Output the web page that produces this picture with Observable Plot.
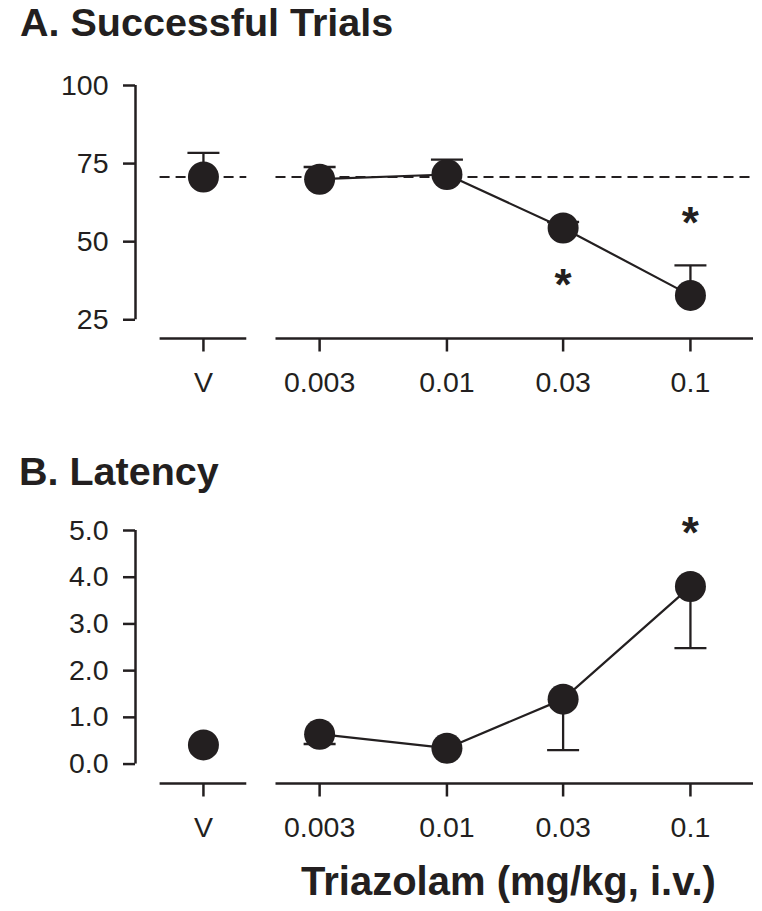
<!DOCTYPE html>
<html>
<head>
<meta charset="utf-8">
<script src="https://cdn.jsdelivr.net/npm/d3@7"></script>
<script src="https://cdn.jsdelivr.net/npm/@observablehq/plot@0.6"></script>
<style>
  html, body { margin: 0; padding: 0; background: #fff; }
  #fig { position: relative; width: 762px; height: 911px; overflow: hidden; font-family: "Liberation Sans", Arial, Helvetica, sans-serif; color: #231f20; }
  .t { position: absolute; font-weight: bold; line-height: 1; white-space: nowrap; }
  .rot { transform: translate(-50%, -50%) rotate(-90deg); }
  .panel { position: absolute; left: 0; }
</style>
</head>
<body>
<div id="fig">
  <div class="t" style="left:20px; top:3px; font-size:39.5px;">A. Successful Trials</div>
  <div class="t" style="left:19px; top:452px; font-size:39.5px;">B. Latency</div>
  <div class="t rot" style="left:22px; top:200px; font-size:39.5px;">Percent</div>
  <div class="t rot" style="left:29px; top:646px; font-size:39.5px;">Seconds</div>
  <div class="t" style="left:301px; top:861px; font-size:40px;">Triazolam (mg/kg, i.v.)</div>
  <div class="panel" id="pA" style="top:60px;"></div>
  <div class="panel" id="pB" style="top:505px;"></div>
</div>
<script>
// ---- data ----
const doseLabels = ["V", "0.003", "0.01", "0.03", "0.1"];
const dosePos = [0.001, 0.003, 0.01, 0.03, 0.1]; // V drawn one log-step left of 0.003
const successMean = [70.7, 70.0, 71.5, 54.4, 32.8];
const successSem = [7.7, 3.9, 4.8, 1.9, 9.6];
const successStars = [null, null, null, 37.6, 57.7];
const latencyMean = [0.41, 0.64, 0.34, 1.39, 3.80];
const latencySem = [null, 0.21, null, 1.09, 1.32];
const latencyStars = [null, null, null, null, 5.06];
const successTicks = [25, 50, 75, 100];
const latencyTicks = [0, 1, 2, 3, 4, 5];

// ---- layout ----
const ink = "#231f20";
const xDomain = [10 ** -3.279, 10 ** -0.741];
const xSegments = [[10 ** -3.178, 10 ** -2.822], [10 ** -2.702, 10 ** -0.741]];
const hline = {
  draw(context, size) {
    const r = Math.sqrt(size / Math.PI);
    context.moveTo(-r, 0);
    context.lineTo(r, 0);
  }
};

function panel(o) {
  const rows = dosePos.map((x, i) => ({x, mean: o.mean[i], sem: o.sem[i], star: o.stars[i]}));
  const drug = rows.slice(1);
  const err = rows.filter(d => d.sem != null).map(d => ({...d, end: d.mean + o.dir * d.sem}));
  const marks = [
    Plot.ruleY(xSegments, {x1: d => d[0], x2: d => d[1], y: () => o.yDomain[0], stroke: ink, strokeWidth: 2.5}),
    Plot.ruleX([xDomain[0]], {x: d => d, y1: () => o.yTicks[0], y2: () => o.yTicks[o.yTicks.length - 1], stroke: ink, strokeWidth: 2.5}),
    Plot.axisY({ticks: o.yTicks, tickFormat: o.yFmt, tickSize: 12, tickPadding: 15, fontSize: 28.5, strokeWidth: 2.5, label: null}),
    Plot.axisX({ticks: dosePos, tickFormat: d => doseLabels[dosePos.indexOf(d)], tickSize: 13.5, tickPadding: 20, fontSize: 28.5, strokeWidth: 2.5, label: null})
  ];
  if (o.ref != null) {
    marks.push(Plot.ruleY(xSegments, {x1: d => d[0], x2: d => d[1], y: () => o.ref, stroke: ink, strokeWidth: 2.2, strokeDasharray: "10,6"}));
  }
  marks.push(
    Plot.ruleX(err, {x: "x", y1: "mean", y2: "end", stroke: ink, strokeWidth: 2.3}),
    Plot.dot(err, {x: "x", y: "end", symbol: hline, r: 16, fill: "none", stroke: ink, strokeWidth: 2.3}),
    Plot.line(drug, {x: "x", y: "mean", stroke: ink, strokeWidth: 2.2}),
    Plot.dot(rows, {x: "x", y: "mean", r: 15.5, fill: ink, stroke: "none"}),
    Plot.text(rows.filter(d => d.star != null), {x: "x", y: "star", text: () => "*", fontSize: 44, fontWeight: "bold", fill: ink, dy: 6})
  );
  return Plot.plot({
    width: 762,
    height: o.height,
    marginTop: 25,
    marginLeft: 135,
    marginRight: 9,
    marginBottom: o.marginBottom,
    x: {type: "log", domain: xDomain},
    y: {domain: o.yDomain},
    style: {fontFamily: '"Liberation Sans", Arial, Helvetica, sans-serif', color: ink, background: "white", overflow: "visible"},
    marks
  });
}

document.getElementById("pA").appendChild(panel({
  mean: successMean, sem: successSem, stars: successStars, dir: 1,
  yDomain: [19, 100], yTicks: successTicks, yFmt: d => String(d),
  ref: successMean[0], height: 340, marginBottom: 62
}));
document.getElementById("pB").appendChild(panel({
  mean: latencyMean, sem: latencySem, stars: latencyStars, dir: -1,
  yDomain: [-0.416, 5], yTicks: latencyTicks, yFmt: d => d.toFixed(1),
  ref: null, height: 345, marginBottom: 67
}));
</script>
</body>
</html>
